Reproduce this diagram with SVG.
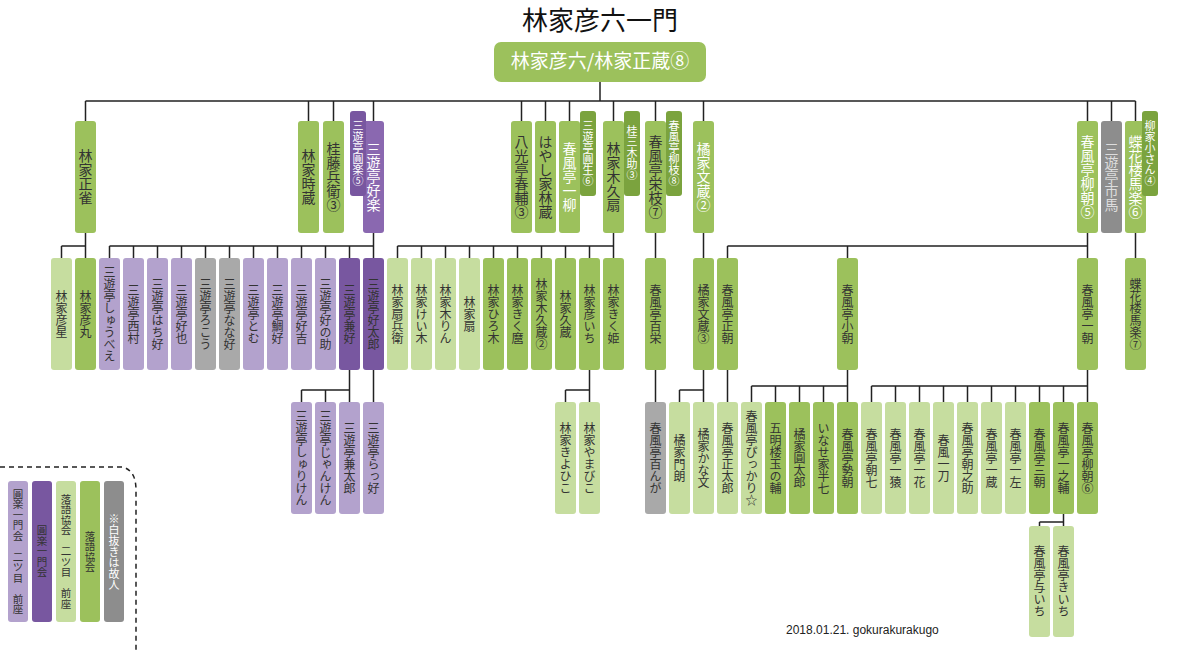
<svg xmlns="http://www.w3.org/2000/svg" width="1200" height="653" viewBox="0 0 1200 653">
<style>
text{font-family:"Noto Sans CJK JP","Noto Sans CJK SC",sans-serif;}
.v{writing-mode:vertical-rl;text-orientation:upright;text-anchor:middle;dominant-baseline:central;font-size:12px;fill:#333;}
.l1{font-size:14px;}
.tg{font-size:11px;}
.w{fill:#fff;}
.lg{fill:#c6dd9f;} .mg{fill:#9cc15c;} .dg{fill:#7ba33e;}
.lp{fill:#b3a2cd;} .dp{fill:#7857a0;} .pp{fill:#8a68b0;}
.gy{fill:#8d8d8d;} .gl{fill:#a9a9a9;}
#connectors path{fill:none;stroke:#222;stroke-width:1.5;}
</style>
<text x="600" y="30" font-size="26" text-anchor="middle" fill="#111">林家彦六一門</text>
<g id="connectors">
<path d="M600 82V101M85.5 101H1135.5M85.5 101V121M308.5 101V121M333.5 101V121M373.5 101V121M521.5 101V121M545.5 101V121M569.5 101V121M613.5 101V121M655.5 101V121M703.5 101V121M1087.5 101V121M1111.5 101V121M1135.5 101V121"/>
<path d="M85.5 233V258M61.5 246H85.5M61.5 246V258"/>
<path d="M373.5 233V258M109.5 246H373.5M109.5 246V258M133.5 246V258M157.5 246V258M181.5 246V258M205.5 246V258M229.5 246V258M253.5 246V258M277.5 246V258M301.5 246V258M325.5 246V258M349.5 246V258"/>
<path d="M613.5 233V258M397.5 246H613.5M397.5 246V258M421.5 246V258M445.5 246V258M469.5 246V258M493.5 246V258M517.5 246V258M541.5 246V258M565.5 246V258M589.5 246V258"/>
<path d="M655.5 233V258M703.5 233V258M1135.5 233V258M1087.5 233V258M727.5 246H1087.5M727.5 246V258M847.5 246V258"/>
<path d="M349.5 370V402M301.5 390H349.5M301.5 390V402M325.5 390V402M373.5 370V402"/>
<path d="M589.5 370V402M565.5 390H589.5M565.5 390V402"/>
<path d="M655.5 370V402M727.5 370V402M703.5 370V402M679.5 390H703.5M679.5 390V402"/>
<path d="M847.5 370V402M751.5 386H847.5M751.5 386V402M775.5 386V402M799.5 386V402M823.5 386V402"/>
<path d="M1087.5 370V402M871.5 386H1087.5M871.5 386V402M895.5 386V402M919.5 386V402M943.5 386V402M967.5 386V402M991.5 386V402M1015.5 386V402M1039.5 386V402M1063.5 386V402"/>
<path d="M1063.5 514V526M1039.5 522H1063.5M1039.5 522V526"/>
</g>
<g id="root"><rect x="494" y="42" width="212" height="40" rx="7" class="mg"/><text x="600" y="68" font-size="19" text-anchor="middle" fill="#fff">林家彦六/林家正蔵⑧</text></g>
<!-- level 1 -->
<g id="n_shojaku"><rect x="75" y="121" width="21" height="112" rx="3" class="mg"/><text x="85.5" y="177" class="v l1">林家正雀</text></g>
<g id="n_tokizo"><rect x="298" y="121" width="21" height="112" rx="3" class="mg"/><text x="308.5" y="177" class="v l1">林家時蔵</text></g>
<g id="n_tobe"><rect x="323" y="121" width="21" height="112" rx="3" class="mg"/><text x="333.5" y="177" class="v l1">桂藤兵衛③</text></g>
<g id="n_koraku"><rect x="363" y="121" width="21" height="112" rx="3" class="pp"/><text x="373.5" y="177" class="v l1 w">三遊亭好楽</text></g>
<g id="n_shunsuke"><rect x="511" y="121" width="21" height="112" rx="3" class="mg"/><text x="521.5" y="177" class="v l1">八光亭春輔③</text></g>
<g id="n_rinzo"><rect x="535" y="121" width="21" height="112" rx="3" class="mg"/><text x="545.5" y="177" class="v l1">はやし家林蔵</text></g>
<g id="n_ichiryu"><rect x="559" y="121" width="21" height="112" rx="3" class="mg"/><text x="569.5" y="177" class="v l1 w">春風亭一柳</text></g>
<g id="n_kikuo"><rect x="603" y="121" width="21" height="112" rx="3" class="mg"/><text x="613.5" y="177" class="v l1">林家木久扇</text></g>
<g id="n_eishi"><rect x="645" y="121" width="21" height="112" rx="3" class="mg"/><text x="655.5" y="177" class="v l1">春風亭栄枝⑦</text></g>
<g id="n_bunzo2"><rect x="693" y="121" width="21" height="112" rx="3" class="mg"/><text x="703.5" y="177" class="v l1 w">橘家文蔵②</text></g>
<g id="n_ryucho5"><rect x="1077" y="121" width="21" height="112" rx="3" class="mg"/><text x="1087.5" y="177" class="v l1 w">春風亭柳朝⑤</text></g>
<g id="n_ichiba"><rect x="1101" y="121" width="21" height="112" rx="3" class="gy"/><text x="1111.5" y="177" class="v l1" fill="#ddd" style="fill:#ddd">三遊亭市馬</text></g>
<g id="n_baraku6"><rect x="1125" y="121" width="21" height="112" rx="3" class="mg"/><text x="1135.5" y="177" class="v l1 w">蝶花楼馬楽⑥</text></g>
<!-- tags -->
<g id="t_enraku"><rect x="350" y="111" width="16" height="85" rx="3" class="dp"/><text x="358" y="153" class="v tg w">三遊亭圓楽⑤</text></g>
<g id="t_ensho"><rect x="580" y="111" width="16" height="85" rx="3" class="dg"/><text x="588" y="153" class="v tg w">三遊亭圓生⑥</text></g>
<g id="t_sanyuki"><rect x="624" y="111" width="16" height="85" rx="3" class="dg"/><text x="632" y="153" class="v tg w">桂三木助③</text></g>
<g id="t_ryushi"><rect x="666" y="111" width="16" height="85" rx="3" class="dg"/><text x="674" y="153" class="v tg w">春風亭柳枝⑧</text></g>
<g id="t_kosan"><rect x="1142" y="111" width="16" height="85" rx="3" class="dg"/><text x="1150" y="153" class="v tg w">柳家小さん④</text></g>
<!-- level 2 -->
<g id="n_hikoboshi"><rect x="51" y="258" width="21" height="112" rx="3" class="lg"/><text x="61.5" y="314" class="v">林家彦星</text></g>
<g id="n_hikomaru"><rect x="75" y="258" width="21" height="112" rx="3" class="mg"/><text x="85.5" y="314" class="v">林家彦丸</text></g>
<g id="n_shubee"><rect x="99" y="258" width="21" height="112" rx="3" class="lp"/><text x="109.5" y="314" class="v">三遊亭しゅうべえ</text></g>
<g id="n_nishimura"><rect x="123" y="258" width="21" height="112" rx="3" class="lp"/><text x="133.5" y="314" class="v">三遊亭西村</text></g>
<g id="n_hachiko"><rect x="147" y="258" width="21" height="112" rx="3" class="lp"/><text x="157.5" y="314" class="v">三遊亭はち好</text></g>
<g id="n_koya"><rect x="171" y="258" width="21" height="112" rx="3" class="lp"/><text x="181.5" y="314" class="v">三遊亭好也</text></g>
<g id="n_roko"><rect x="195" y="258" width="21" height="112" rx="3" class="gl"/><text x="205.5" y="314" class="v">三遊亭ろこう</text></g>
<g id="n_nanako"><rect x="219" y="258" width="21" height="112" rx="3" class="gl"/><text x="229.5" y="314" class="v">三遊亭なな好</text></g>
<g id="n_tomu"><rect x="243" y="258" width="21" height="112" rx="3" class="lp"/><text x="253.5" y="314" class="v">三遊亭とむ</text></g>
<g id="n_taiko"><rect x="267" y="258" width="21" height="112" rx="3" class="lp"/><text x="277.5" y="314" class="v">三遊亭鯛好</text></g>
<g id="n_kokichi"><rect x="291" y="258" width="21" height="112" rx="3" class="lp"/><text x="301.5" y="314" class="v">三遊亭好吉</text></g>
<g id="n_konosuke"><rect x="315" y="258" width="21" height="112" rx="3" class="lp"/><text x="325.5" y="314" class="v">三遊亭好の助</text></g>
<g id="n_kenko"><rect x="339" y="258" width="21" height="112" rx="3" class="dp"/><text x="349.5" y="314" class="v">三遊亭兼好</text></g>
<g id="n_kotaro"><rect x="363" y="258" width="21" height="112" rx="3" class="dp"/><text x="373.5" y="314" class="v">三遊亭好太郎</text></g>
<g id="n_senbee"><rect x="387" y="258" width="21" height="112" rx="3" class="lg"/><text x="397.5" y="314" class="v">林家扇兵衛</text></g>
<g id="n_keiki"><rect x="411" y="258" width="21" height="112" rx="3" class="lg"/><text x="421.5" y="314" class="v">林家けい木</text></g>
<g id="n_kirin"><rect x="435" y="258" width="21" height="112" rx="3" class="lg"/><text x="445.5" y="314" class="v">林家木りん</text></g>
<g id="n_sen"><rect x="459" y="258" width="21" height="112" rx="3" class="lg"/><text x="469.5" y="314" class="v">林家扇</text></g>
<g id="n_hiroki"><rect x="483" y="258" width="21" height="112" rx="3" class="mg"/><text x="493.5" y="314" class="v">林家ひろ木</text></g>
<g id="n_kikumaro"><rect x="507" y="258" width="21" height="112" rx="3" class="mg"/><text x="517.5" y="314" class="v">林家きく麿</text></g>
<g id="n_kikuzo2"><rect x="531" y="258" width="21" height="112" rx="3" class="mg"/><text x="541.5" y="314" class="v">林家木久蔵②</text></g>
<g id="n_kyuzo"><rect x="555" y="258" width="21" height="112" rx="3" class="mg"/><text x="565.5" y="314" class="v">林家久蔵</text></g>
<g id="n_hikoichi"><rect x="579" y="258" width="21" height="112" rx="3" class="mg"/><text x="589.5" y="314" class="v">林家彦いち</text></g>
<g id="n_kikuhime"><rect x="603" y="258" width="21" height="112" rx="3" class="mg"/><text x="613.5" y="314" class="v">林家きく姫</text></g>
<g id="n_momoe"><rect x="645" y="258" width="21" height="112" rx="3" class="mg"/><text x="655.5" y="314" class="v">春風亭百栄</text></g>
<g id="n_bunzo3"><rect x="693" y="258" width="21" height="112" rx="3" class="mg"/><text x="703.5" y="314" class="v">橘家文蔵③</text></g>
<g id="n_shocho"><rect x="717" y="258" width="21" height="112" rx="3" class="mg"/><text x="727.5" y="314" class="v">春風亭正朝</text></g>
<g id="n_koasa"><rect x="837" y="258" width="21" height="112" rx="3" class="mg"/><text x="847.5" y="314" class="v">春風亭小朝</text></g>
<g id="n_ichicho"><rect x="1077" y="258" width="21" height="112" rx="3" class="mg"/><text x="1087.5" y="314" class="v">春風亭一朝</text></g>
<g id="n_baraku7"><rect x="1125" y="258" width="21" height="112" rx="3" class="mg"/><text x="1135.5" y="314" class="v">蝶花楼馬楽⑦</text></g>
<!-- level 3 -->
<g id="n_shuriken"><rect x="291" y="402" width="21" height="112" rx="3" class="lp"/><text x="301.5" y="458" class="v">三遊亭しゅりけん</text></g>
<g id="n_janken"><rect x="315" y="402" width="21" height="112" rx="3" class="lp"/><text x="325.5" y="458" class="v">三遊亭じゃんけん</text></g>
<g id="n_kentaro"><rect x="339" y="402" width="21" height="112" rx="3" class="lp"/><text x="349.5" y="458" class="v">三遊亭兼太郎</text></g>
<g id="n_rakko"><rect x="363" y="402" width="21" height="112" rx="3" class="lp"/><text x="373.5" y="458" class="v">三遊亭らっ好</text></g>
<g id="n_kiyohiko"><rect x="555" y="402" width="21" height="112" rx="3" class="lg"/><text x="565.5" y="458" class="v">林家きよひこ</text></g>
<g id="n_yamabiko"><rect x="579" y="402" width="21" height="112" rx="3" class="lg"/><text x="589.5" y="458" class="v">林家やまびこ</text></g>
<g id="n_hyakunga"><rect x="645" y="402" width="21" height="112" rx="3" class="gl"/><text x="655.5" y="458" class="v">春風亭百んが</text></g>
<g id="n_monro"><rect x="669" y="402" width="21" height="112" rx="3" class="lg"/><text x="679.5" y="458" class="v">橘家門朗</text></g>
<g id="n_kanabun"><rect x="693" y="402" width="21" height="112" rx="3" class="lg"/><text x="703.5" y="458" class="v">橘家かな文</text></g>
<g id="n_shotaro"><rect x="717" y="402" width="21" height="112" rx="3" class="lg"/><text x="727.5" y="458" class="v">春風亭正太郎</text></g>
<g id="n_hikkari"><rect x="741" y="402" width="21" height="112" rx="3" class="lg"/><text x="751.5" y="458" class="v">春風亭ぴっかり☆</text></g>
<g id="n_tamanosuke"><rect x="765" y="402" width="21" height="112" rx="3" class="mg"/><text x="775.5" y="458" class="v">五明楼玉の輔</text></g>
<g id="n_entaro"><rect x="789" y="402" width="21" height="112" rx="3" class="mg"/><text x="799.5" y="458" class="v">橘家圓太郎</text></g>
<g id="n_hanshichi"><rect x="813" y="402" width="21" height="112" rx="3" class="mg"/><text x="823.5" y="458" class="v">いなせ家半七</text></g>
<g id="n_seicho"><rect x="837" y="402" width="21" height="112" rx="3" class="mg"/><text x="847.5" y="458" class="v">春風亭勢朝</text></g>
<g id="n_choshichi"><rect x="861" y="402" width="21" height="112" rx="3" class="lg"/><text x="871.5" y="458" class="v">春風亭朝七</text></g>
<g id="n_ichien"><rect x="885" y="402" width="21" height="112" rx="3" class="lg"/><text x="895.5" y="458" class="v">春風亭一猿</text></g>
<g id="n_ichika"><rect x="909" y="402" width="21" height="112" rx="3" class="lg"/><text x="919.5" y="458" class="v">春風亭一花</text></g>
<g id="n_itto"><rect x="933" y="402" width="21" height="112" rx="3" class="lg"/><text x="943.5" y="458" class="v">春風一刀</text></g>
<g id="n_chonosuke"><rect x="957" y="402" width="21" height="112" rx="3" class="lg"/><text x="967.5" y="458" class="v">春風亭朝之助</text></g>
<g id="n_ichizo"><rect x="981" y="402" width="21" height="112" rx="3" class="lg"/><text x="991.5" y="458" class="v">春風亭一蔵</text></g>
<g id="n_ichisa"><rect x="1005" y="402" width="21" height="112" rx="3" class="lg"/><text x="1015.5" y="458" class="v">春風亭一左</text></g>
<g id="n_sancho"><rect x="1029" y="402" width="21" height="112" rx="3" class="mg"/><text x="1039.5" y="458" class="v">春風亭三朝</text></g>
<g id="n_ichinosuke"><rect x="1053" y="402" width="21" height="112" rx="3" class="mg"/><text x="1063.5" y="458" class="v">春風亭一之輔</text></g>
<g id="n_ryucho6"><rect x="1077" y="402" width="21" height="112" rx="3" class="mg"/><text x="1087.5" y="458" class="v">春風亭柳朝⑥</text></g>
<!-- level 4 -->
<g id="n_yoichi"><rect x="1029" y="526" width="21" height="111" rx="3" class="lg"/><text x="1039.5" y="581" class="v">春風亭与いち</text></g>
<g id="n_kiichi"><rect x="1053" y="526" width="21" height="111" rx="3" class="lg"/><text x="1063.5" y="581" class="v">春風亭きいち</text></g>
<!-- legend -->
<g id="legend">
<path d="M0 467H122Q136 470 136 490V653" fill="none" stroke="#222" stroke-width="1.5" stroke-dasharray="5,4"/>
<rect x="8" y="481" width="20" height="141" rx="3" class="lp"/><text x="18" y="551.5" class="v" font-size="10.5" style="font-size:10.5px">圓楽一門会　二ツ目　前座</text>
<rect x="32" y="481" width="20" height="141" rx="3" class="dp"/><text x="42" y="551.5" class="v" style="font-size:10.5px">圓楽一門会</text>
<rect x="56" y="481" width="20" height="141" rx="3" class="lg"/><text x="66" y="551.5" class="v" style="font-size:10.5px">落語協会　二ツ目　前座</text>
<rect x="80" y="481" width="20" height="141" rx="3" class="mg"/><text x="90" y="551.5" class="v" style="font-size:10.5px">落語協会</text>
<rect x="104" y="481" width="20" height="141" rx="3" class="gy"/><text x="114" y="551.5" class="v w" style="font-size:11px">※白抜きは故人</text>
</g>
<text x="786" y="634" font-size="12" fill="#222" style="font-family:'Liberation Sans',sans-serif">2018.01.21.  gokurakurakugo</text>
</svg>
